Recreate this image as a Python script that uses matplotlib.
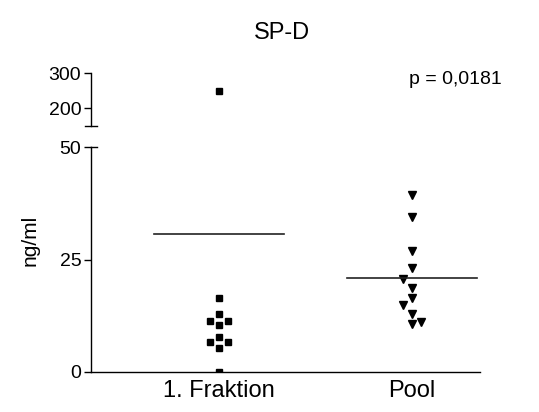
import matplotlib
matplotlib.use("Agg")
import matplotlib.pyplot as plt
import matplotlib.transforms as mtransforms
import numpy as np

plt.rcParams['font.family'] = ['Liberation Sans', 'DejaVu Sans']

categories = ["1. Fraktion", "Pool"]
fraktion = [250, 16.4, 12.8, 11.3, 11.3, 10.4, 7.7, 6.6, 6.6, 5.4, 0]
pool = [39.3, 34.5, 26.9, 23.2, 20.7, 18.7, 16.4, 15.0, 13.0, 11.2, 10.6]
# small horizontal scatter of overlapping points
fraktion_dx = [0, 0, 0, -1, 1, 0, 0, -1, 1, 0, 0]
pool_dx = [0, 0, 0, 0, -1, 0, 0, -1, 0, 1, 0]
p_text = "p = 0,0181"

fig = plt.figure(figsize=(5.39, 4.12), dpi=100)
ax_lo = fig.add_axes([91/539, 40/412, 389/539, 225/412])
ax_hi = fig.add_axes([91/539, 286/412, 389/539, 53/412])

xpos = np.array([1.0, 2.0])
jit = 0.047
mean_hw = 0.337

for ax in (ax_lo, ax_hi):
    ax.set_xlim(1 - 128/193, 2 + 68/193)
    ax.spines['top'].set_visible(False)
    ax.spines['right'].set_visible(False)
    ax.spines['left'].set_linewidth(1.0)
    ax.spines['bottom'].set_linewidth(1.0)
    ax.tick_params(axis='y', direction='out', length=5, width=1.0, labelsize=14, pad=2)

    f = np.array(fraktion, dtype=float)
    p = np.array(pool, dtype=float)
    ax.plot(xpos[0] + jit*np.array(fraktion_dx), f, 's', color='black', ms=5, clip_on=True)
    ax.plot(xpos[1] + jit*np.array(pool_dx), p, 'v', color='black', ms=5.2, clip_on=True)

ax_lo.set_ylim(0, 50)
ax_lo.set_yticks([0, 25, 50])
ax_lo.set_xticks([xpos[0], xpos[1]])
ax_lo.set_xticklabels(categories, fontsize=17)
ax_lo.tick_params(axis='x', length=0, pad=6)

# mean lines
for x, vals in zip(xpos, [fraktion, pool]):
    m = np.mean(vals)
    ax_lo.plot([x - mean_hw, x + mean_hw], [m, m], color='#222222', lw=1.2)

ax_hi.set_ylim(150, 300)
ax_hi.set_yticks([200, 300])
ax_hi.spines['bottom'].set_visible(False)
ax_hi.set_xticks([])

# break caps
w = 389
tr_hi = mtransforms.blended_transform_factory(ax_hi.transAxes, ax_hi.transData)
ax_hi.plot([-6/w, 6/w], [150, 150], color='black', lw=1.0, transform=tr_hi, clip_on=False)
tr_lo = mtransforms.blended_transform_factory(ax_lo.transAxes, ax_lo.transData)
ax_lo.plot([0, 6/w], [50, 50], color='black', lw=1.0, transform=tr_lo, clip_on=False)

fig.text(30/539, 1 - 240/412, "ng/ml", rotation=90, ha='center', va='center', fontsize=15)
fig.text(282/539, 1 - 33/412, "SP-D", ha='center', va='center', fontsize=17)
fig.text(455/539, 1 - 79/412, p_text, ha='center', va='center', fontsize=14)

fig.savefig("out.png", dpi=100)
